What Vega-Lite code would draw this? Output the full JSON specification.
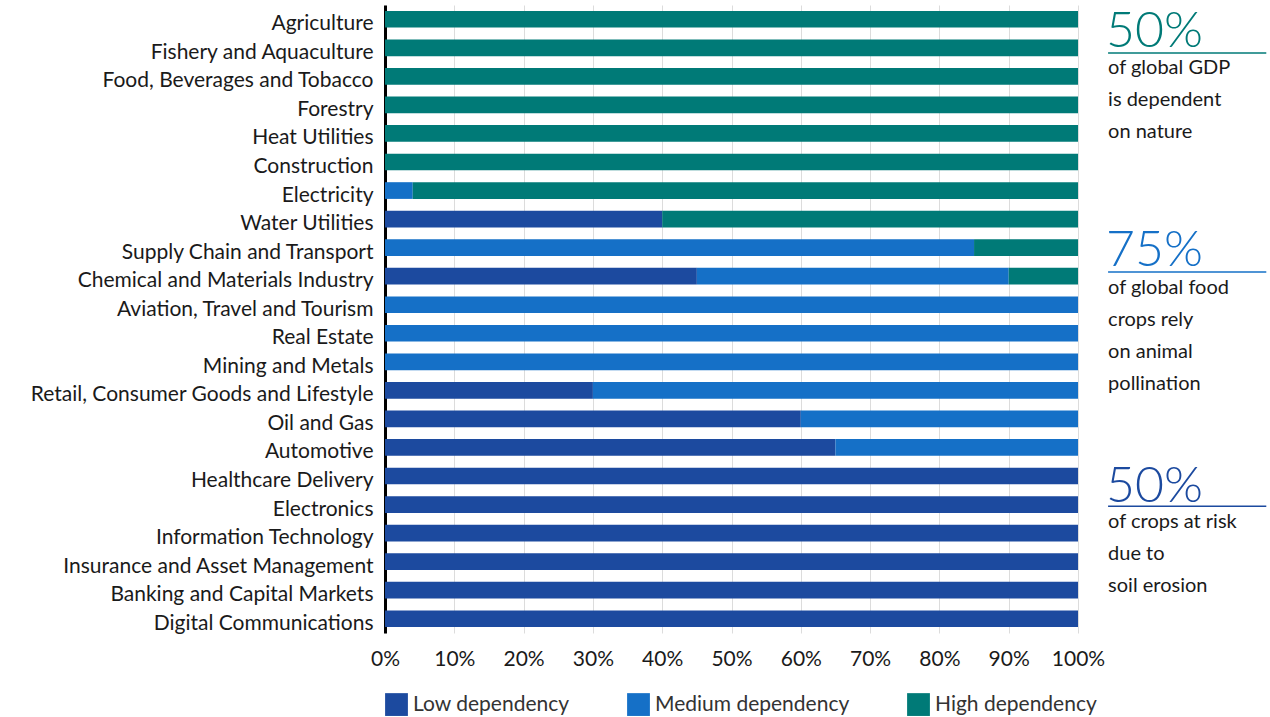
{
  "$schema": "https://vega.github.io/schema/vega-lite/v6.json",
  "autosize": {"type": "none"},
  "padding": {"left": 385, "top": 5, "right": 192, "bottom": 84},
  "width": 693,
  "height": 628,
  "background": "white",
  "config": {
    "font": "Lato",
    "view": {"stroke": null}
  },
  "datasets": {
    "bars": [
      {"sector": "Agriculture", "level": "High dependency", "share": 1.0},
      {"sector": "Fishery and Aquaculture", "level": "High dependency", "share": 1.0},
      {"sector": "Food, Beverages and Tobacco", "level": "High dependency", "share": 1.0},
      {"sector": "Forestry", "level": "High dependency", "share": 1.0},
      {"sector": "Heat Utilities", "level": "High dependency", "share": 1.0},
      {"sector": "Construction", "level": "High dependency", "share": 1.0},
      {"sector": "Electricity", "level": "Medium dependency", "share": 0.04},
      {"sector": "Electricity", "level": "High dependency", "share": 0.96},
      {"sector": "Water Utilities", "level": "Low dependency", "share": 0.40},
      {"sector": "Water Utilities", "level": "High dependency", "share": 0.60},
      {"sector": "Supply Chain and Transport", "level": "Medium dependency", "share": 0.85},
      {"sector": "Supply Chain and Transport", "level": "High dependency", "share": 0.15},
      {"sector": "Chemical and Materials Industry", "level": "Low dependency", "share": 0.45},
      {"sector": "Chemical and Materials Industry", "level": "Medium dependency", "share": 0.45},
      {"sector": "Chemical and Materials Industry", "level": "High dependency", "share": 0.10},
      {"sector": "Aviation, Travel and Tourism", "level": "Medium dependency", "share": 1.0},
      {"sector": "Real Estate", "level": "Medium dependency", "share": 1.0},
      {"sector": "Mining and Metals", "level": "Medium dependency", "share": 1.0},
      {"sector": "Retail, Consumer Goods and Lifestyle", "level": "Low dependency", "share": 0.30},
      {"sector": "Retail, Consumer Goods and Lifestyle", "level": "Medium dependency", "share": 0.70},
      {"sector": "Oil and Gas", "level": "Low dependency", "share": 0.60},
      {"sector": "Oil and Gas", "level": "Medium dependency", "share": 0.40},
      {"sector": "Automotive", "level": "Low dependency", "share": 0.65},
      {"sector": "Automotive", "level": "Medium dependency", "share": 0.35},
      {"sector": "Healthcare Delivery", "level": "Low dependency", "share": 1.0},
      {"sector": "Electronics", "level": "Low dependency", "share": 1.0},
      {"sector": "Information Technology", "level": "Low dependency", "share": 1.0},
      {"sector": "Insurance and Asset Management", "level": "Low dependency", "share": 1.0},
      {"sector": "Banking and Capital Markets", "level": "Low dependency", "share": 1.0},
      {"sector": "Digital Communications", "level": "Low dependency", "share": 1.0}
    ],
    "notes": [
      {"level": "High dependency", "kind": "big", "text": "50%", "pos": 1.34},
      {"level": "High dependency", "kind": "small", "text": "of global GDP", "pos": 2.01},
      {"level": "High dependency", "kind": "small", "text": "is dependent", "pos": 3.03},
      {"level": "High dependency", "kind": "small", "text": "on nature", "pos": 4.05},
      {"level": "Medium dependency", "kind": "big", "text": "75%", "pos": 8.31},
      {"level": "Medium dependency", "kind": "small", "text": "of global food", "pos": 9.01},
      {"level": "Medium dependency", "kind": "small", "text": "crops rely", "pos": 10.03},
      {"level": "Medium dependency", "kind": "small", "text": "on animal", "pos": 11.05},
      {"level": "Medium dependency", "kind": "small", "text": "pollination", "pos": 12.07},
      {"level": "Low dependency", "kind": "big", "text": "50%", "pos": 15.83},
      {"level": "Low dependency", "kind": "small", "text": "of crops at risk", "pos": 16.46},
      {"level": "Low dependency", "kind": "small", "text": "due to", "pos": 17.48},
      {"level": "Low dependency", "kind": "small", "text": "soil erosion", "pos": 18.50}
    ],
    "underlines": [
      {"level": "High dependency", "pos": 1.53},
      {"level": "Medium dependency", "pos": 8.50},
      {"level": "Low dependency", "pos": 15.96}
    ]
  },
  "layer": [
    {
      "data": {"name": "bars"},
      "transform": [
        {"calculate": "indexof(['Low dependency','Medium dependency','High dependency'], datum.level)", "as": "rank"}
      ],
      "mark": {"type": "bar"},
      "encoding": {
        "y": {
          "field": "sector",
          "type": "nominal",
          "sort": null,
          "scale": {"paddingInner": 0.415, "paddingOuter": 0.2075},
          "axis": {
            "title": null,
            "ticks": false,
            "domainColor": "#000000",
            "domainWidth": 3,
            "labelFontSize": 21,
            "labelColor": "#1a1a1a",
            "labelPadding": 12,
            "labelOffset": 5,
            "labelLimit": 400
          }
        },
        "x": {
          "field": "share",
          "type": "quantitative",
          "stack": "zero",
          "scale": {"domain": [0, 1], "nice": false},
          "axis": {
            "title": null,
            "format": "%",
            "values": [0, 0.1, 0.2, 0.3, 0.4, 0.5, 0.6, 0.7, 0.8, 0.9, 1.0],
            "domain": false,
            "ticks": false,
            "labelFlush": false,
            "labelFontSize": 21,
            "labelColor": "#1a1a1a",
            "labelPadding": 15,
            "grid": true,
            "gridColor": "#dcdcdc",
            "gridWidth": 1
          }
        },
        "order": {"field": "rank", "type": "quantitative"},
        "color": {
          "field": "level",
          "type": "nominal",
          "scale": {
            "domain": ["Low dependency", "Medium dependency", "High dependency"],
            "range": ["#1C4A9F", "#1570C7", "#007A77"]
          },
          "legend": {
            "title": null,
            "orient": "bottom",
            "direction": "horizontal",
            "symbolType": "square",
            "symbolSize": 520,
            "symbolStrokeWidth": 0,
            "symbolOpacity": 1,
            "labelFontSize": 21,
            "labelColor": "#333333",
            "labelOffset": 5,
            "labelLimit": 400,
            "columnPadding": 57,
            "offset": 24
          }
        }
      }
    },
    {
      "layer": [
        {
          "data": {"name": "underlines"},
          "mark": {"type": "rule", "strokeWidth": 1.5},
          "encoding": {
            "x": {"datum": 1.0434},
            "x2": {"datum": 1.2717},
            "y": {"field": "pos", "type": "quantitative", "scale": {"domain": [0, 20], "reverse": true, "nice": false, "zero": false}, "axis": null},
            "color": {"field": "level", "type": "nominal", "legend": null}
          }
        },
        {
          "data": {"name": "notes"},
          "transform": [{"filter": "datum.kind === 'big'"}],
          "mark": {"type": "text", "align": "left", "baseline": "alphabetic", "fontSize": 50, "fontWeight": 300, "dx": -2},
          "encoding": {
            "x": {"datum": 1.0434},
            "y": {"field": "pos", "type": "quantitative"},
            "text": {"field": "text"},
            "color": {"field": "level", "type": "nominal", "legend": null}
          }
        },
        {
          "data": {"name": "notes"},
          "transform": [{"filter": "datum.kind === 'small'"}],
          "mark": {"type": "text", "align": "left", "baseline": "middle", "fontSize": 20, "color": "#1a1a1a"},
          "encoding": {
            "x": {"datum": 1.0434},
            "y": {"field": "pos", "type": "quantitative"},
            "text": {"field": "text"}
          }
        }
      ]
    }
  ],
  "resolve": {"scale": {"y": "independent"}, "axis": {"y": "independent"}}
}
